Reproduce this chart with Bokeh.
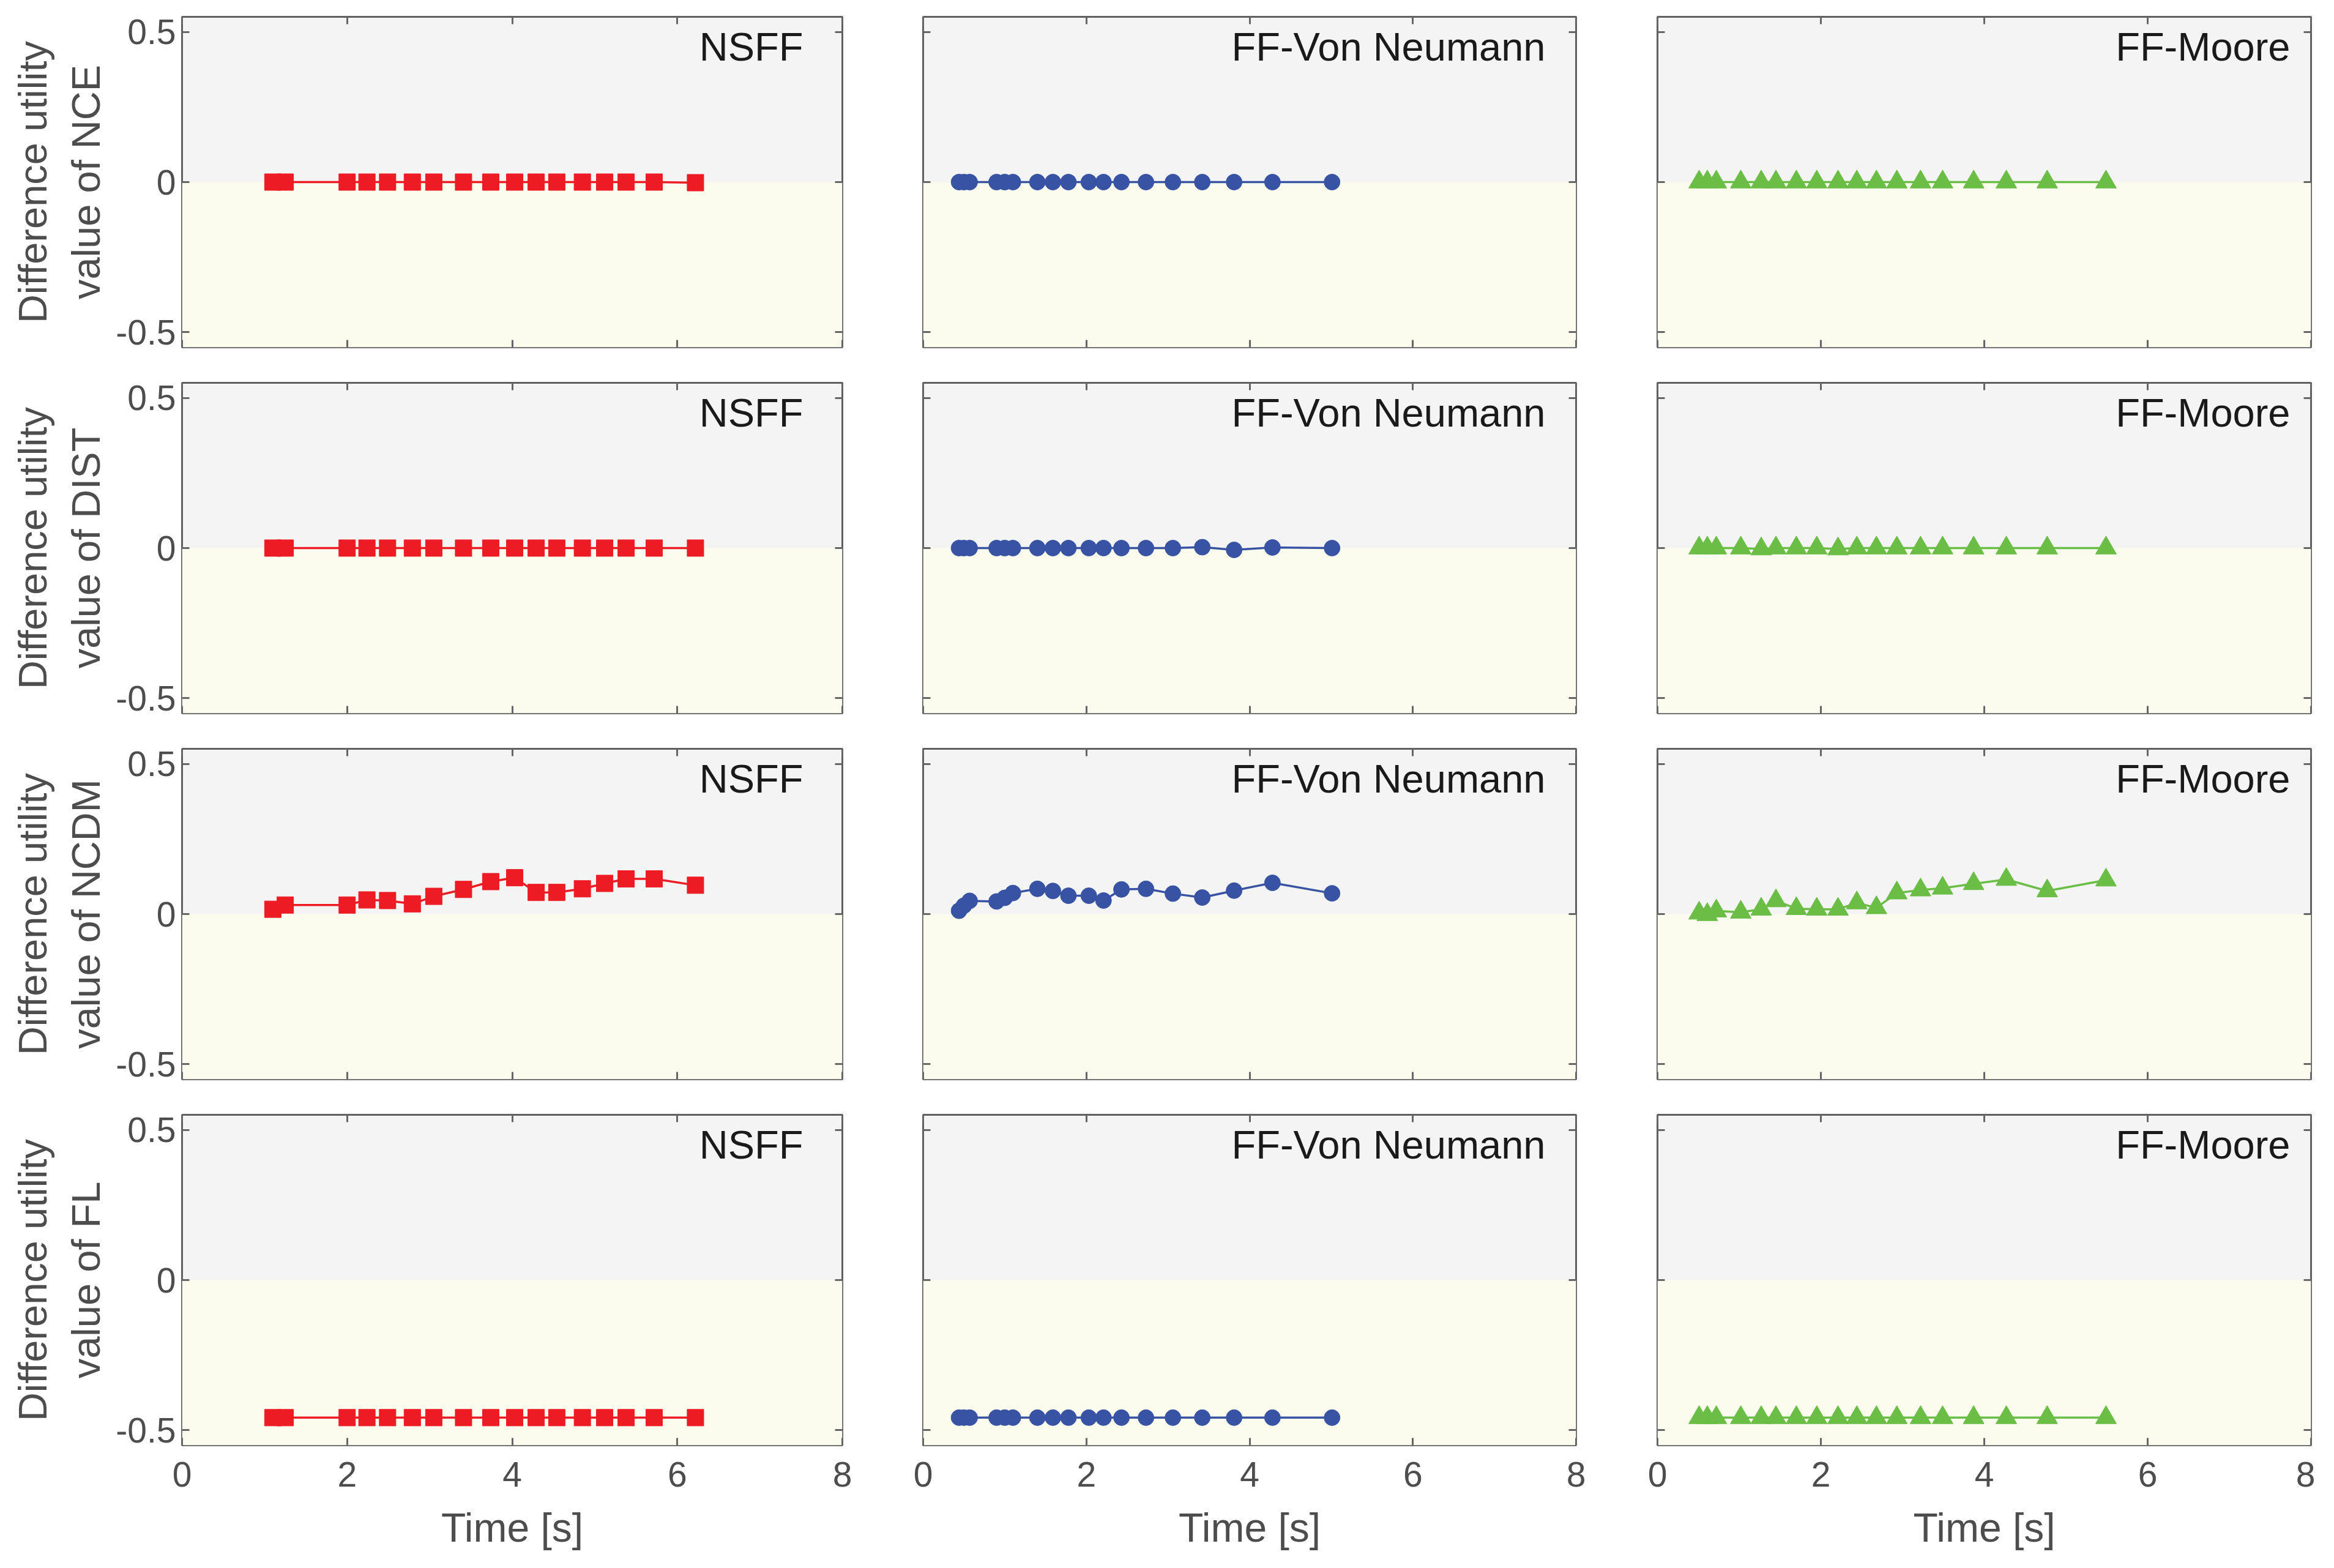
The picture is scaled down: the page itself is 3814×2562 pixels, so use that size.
from bokeh.plotting import figure
from bokeh.layouts import column, row
from bokeh.models import (Range1d, FixedTicker, LinearAxis, BoxAnnotation, Label,
                          CustomJSTickFormatter)
from bokeh.embed import file_html
from bokeh.resources import INLINE

# ---------------- data ----------------
T_NSFF = [1.10, 1.25, 2.00, 2.24, 2.49, 2.79, 3.05, 3.41, 3.74, 4.03, 4.29, 4.54, 4.85, 5.12, 5.38, 5.72, 6.22]
T_VN = [0.44, 0.50, 0.57, 0.90, 1.00, 1.10, 1.40, 1.59, 1.78, 2.03, 2.21, 2.43, 2.73, 3.06, 3.42, 3.81, 4.28, 5.01]
T_MOORE = [0.51, 0.61, 0.72, 1.02, 1.27, 1.45, 1.70, 1.95, 2.21, 2.44, 2.68, 2.93, 3.22, 3.49, 3.87, 4.27, 4.77, 5.49]

NCE_NSFF = [0, 0, 0, 0, 0, 0, 0, 0, 0, 0, 0, 0, 0, 0, 0, 0, -0.002]
NCE_VN = [0, 0, 0, 0, 0, 0, 0, 0, 0, 0, 0, 0, 0, 0, 0, 0, 0, 0]
NCE_MOORE = [0, 0, 0, 0, 0, 0, 0, 0, 0, 0, 0, 0, 0, 0, 0, 0, 0, 0]

DIST_NSFF = [0, 0, 0, 0, 0, 0, 0, 0, 0, 0, 0, 0, 0, 0, 0, 0, 0]
DIST_VN = [0, 0, 0, 0, 0, 0, 0, 0, 0, 0, 0, 0, 0, 0, 0.003, -0.006, 0.002, 0]
DIST_MOORE = [0, 0, 0, 0, -0.003, 0, 0, 0, -0.003, 0, 0, 0, 0, 0, 0, 0, 0, 0]

NCDM_NSFF = [0.016, 0.030, 0.030, 0.047, 0.045, 0.034, 0.059, 0.082, 0.108, 0.121, 0.072, 0.072,
             0.084, 0.102, 0.117, 0.117, 0.096]
NCDM_VN = [0.011, 0.028, 0.044, 0.042, 0.054, 0.070, 0.084, 0.077, 0.061, 0.061, 0.045, 0.082,
           0.084, 0.068, 0.055, 0.078, 0.104, 0.069]
NCDM_MOORE = [0.003, -0.002, 0.010, 0.006, 0.016, 0.044, 0.018, 0.016, 0.016, 0.037, 0.021, 0.070,
              0.080, 0.086, 0.101, 0.115, 0.077, 0.113]

FL_NSFF = [-0.458, -0.458, -0.458, -0.458, -0.458, -0.458, -0.458, -0.458, -0.458, -0.458, -0.458,
           -0.458, -0.458, -0.458, -0.458, -0.458, -0.458]
FL_VN = [-0.458, -0.458, -0.458, -0.458, -0.458, -0.458, -0.458, -0.458, -0.458, -0.458, -0.458,
         -0.458, -0.458, -0.458, -0.458, -0.458, -0.458, -0.458]
FL_MOORE = [-0.458, -0.458, -0.458, -0.458, -0.458, -0.458, -0.458, -0.458, -0.458, -0.458, -0.458,
            -0.458, -0.458, -0.458, -0.458, -0.458, -0.458, -0.458]

METRICS = ["NCE", "DIST", "NCDM", "FL"]
METHODS = ["NSFF", "FF-Von Neumann", "FF-Moore"]
X_TICKS = [0, 2, 4, 6, 8]
Y_TICKS = [-0.5, 0, 0.5]

SERIES = {
    ("NCE", 0): NCE_NSFF, ("NCE", 1): NCE_VN, ("NCE", 2): NCE_MOORE,
    ("DIST", 0): DIST_NSFF, ("DIST", 1): DIST_VN, ("DIST", 2): DIST_MOORE,
    ("NCDM", 0): NCDM_NSFF, ("NCDM", 1): NCDM_VN, ("NCDM", 2): NCDM_MOORE,
    ("FL", 0): FL_NSFF, ("FL", 1): FL_VN, ("FL", 2): FL_MOORE,
}
TIMES = [T_NSFF, T_VN, T_MOORE]

# ---------------- style ----------------
FONT = "Liberation Sans"
COLORS = ["#ed1c24", "#3853a4", "#6abd45"]
MARKERS = ["square", "circle", "triangle"]
MSIZES = [27, 26, 34]
FRAME_W = [1079, 1067, 1068]
FRAME_H = 540
LEFT_B = [297, 67, 68]
RIGHT_B = [65, 65, 7]
TOP_B = [27, 29, 29, 29]
BOT_B = [29, 29, 29, 150]
LABEL_OFF = [64, 50, 34]   # px from right frame edge
LABEL_DROP = 49            # baseline px below frame top
TICK_COL = "#666666"
TXT_COL = "#4d4d4d"

fmt_code = "return tick.toString();"


def style_axis(ax, show_labels):
    ax.axis_line_color = None
    ax.major_tick_in = 12
    ax.major_tick_out = 0
    ax.major_tick_line_color = TICK_COL
    ax.major_tick_line_width = 3
    ax.minor_tick_line_color = None
    ax.formatter = CustomJSTickFormatter(code=fmt_code)
    if show_labels:
        ax.major_label_text_font = FONT
        ax.major_label_text_font_size = "57px"
        ax.major_label_text_color = TXT_COL
    else:
        ax.major_label_text_font_size = "1px"
        ax.major_label_text_color = None
        ax.major_label_standoff = 0


rows = []
for r, metric in enumerate(METRICS):
    figs = []
    for c, method in enumerate(METHODS):
        p = figure(output_backend="svg", toolbar_location=None,
                   frame_width=FRAME_W[c], frame_height=FRAME_H,
                   x_range=Range1d(0, 8), y_range=Range1d(-0.55, 0.55),
                   min_border_left=LEFT_B[c], min_border_right=RIGHT_B[c],
                   min_border_top=TOP_B[r], min_border_bottom=BOT_B[r])
        p.background_fill_color = "#f4f4f4"
        p.border_fill_color = "white"
        p.outline_line_color = "#606060"
        p.outline_line_width = 3
        p.grid.visible = False

        p.add_layout(BoxAnnotation(top=0, fill_color="#fbfcee", fill_alpha=1.0,
                                   line_color=None, level="underlay"))

        # bottom axis
        xa = p.xaxis[0]
        xa.ticker = FixedTicker(ticks=X_TICKS)
        style_axis(xa, r == 3)
        if r == 3:
            xa.major_label_standoff = 27
            xa.axis_label = "Time [s]"
            xa.axis_label_text_font = FONT
            xa.axis_label_text_font_size = "66px"
            xa.axis_label_text_font_style = "normal"
            xa.axis_label_text_color = TXT_COL
            xa.axis_label_standoff = 27

        # left axis
        ya = p.yaxis[0]
        ya.ticker = FixedTicker(ticks=Y_TICKS)
        style_axis(ya, c == 0)
        if c == 0:
            ya.major_label_standoff = 10
            ya.axis_label = "value of " + metric
            ya.axis_label_text_font = FONT
            ya.axis_label_text_font_size = "65px"
            ya.axis_label_text_font_style = "normal"
            ya.axis_label_text_color = TXT_COL
            ya.axis_label_standoff = 9
            outer = LinearAxis(ticker=FixedTicker(ticks=[]), axis_line_color=None,
                               major_tick_in=0, major_tick_out=0,
                               major_label_text_font_size="1px", major_label_text_color=None,
                               major_label_standoff=0,
                               axis_label="Difference utility", axis_label_text_font=FONT,
                               axis_label_text_font_size="65px",
                               axis_label_text_font_style="normal",
                               axis_label_text_color=TXT_COL, axis_label_standoff=12)
            p.add_layout(outer, "left")

        # mirror axes
        top = LinearAxis(ticker=FixedTicker(ticks=X_TICKS))
        style_axis(top, False)
        p.add_layout(top, "above")
        right = LinearAxis(ticker=FixedTicker(ticks=Y_TICKS))
        style_axis(right, False)
        p.add_layout(right, "right")

        xs = TIMES[c]
        ys = SERIES[(metric, c)]
        p.line(xs, ys, line_color=COLORS[c], line_width=3.5)
        p.scatter(xs, ys, marker=MARKERS[c], size=MSIZES[c], fill_color=COLORS[c],
                  line_color=COLORS[c], line_width=1)

        p.add_layout(Label(x=8 - LABEL_OFF[c] / (FRAME_W[c] / 8.0),
                           y=0.55 - LABEL_DROP / (FRAME_H / 1.1),
                           text=method, text_align="right", text_baseline="alphabetic",
                           text_font=FONT, text_font_size="65px", text_color="#1a1a1a"))
        figs.append(p)
    rows.append(row(*figs))

layout = column(*rows)
open("out.html", "w").write(file_html(layout, INLINE))
